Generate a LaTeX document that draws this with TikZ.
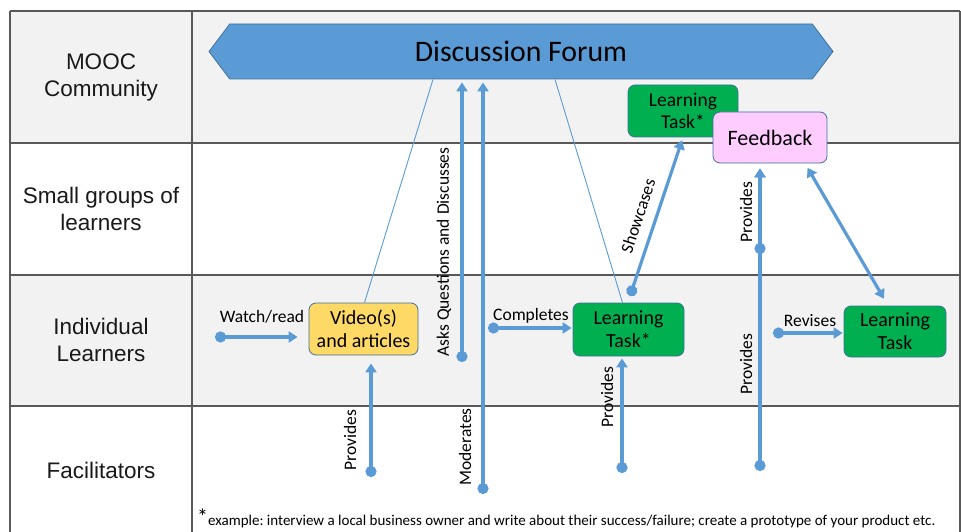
\documentclass[tikz,border=0pt]{standalone}
\usepackage{fontspec}
\setmainfont{Carlito}
\newfontfamily\lanefont{Liberation Sans}
\usetikzlibrary{arrows.meta,shapes.symbols}
\definecolor{rowgray}{HTML}{F2F2F2}
\definecolor{gridline}{HTML}{595959}
\definecolor{flowblue}{HTML}{5B9BD5}
\definecolor{boxedge}{HTML}{41719C}
\definecolor{taskgreen}{HTML}{00B050}
\definecolor{videoyellow}{HTML}{FFD966}
\definecolor{fbpink}{HTML}{FFCCFF}
\tikzset{
  grid/.style = {gridline, line width=1.2pt},
  lane/.style = {align=center, text=black!90, font=\lanefont\fontsize{22.5}{27}\selectfont},
  forum/.style = {signal, signal to=west and east, signal pointer angle=106, draw=boxedge, fill=flowblue,
    line width=0.8pt, minimum width=624pt, minimum height=55pt, inner sep=0pt, font=\fontsize{29.8}{32}\selectfont},
  taskbox/.style = {rectangle, rounded corners=7pt, draw=boxedge, line width=0.8pt, align=center, inner sep=0pt,
    font=\fontsize{20}{23}\selectfont},
  task/.style = {taskbox, fill=taskgreen},
  video/.style = {taskbox, fill=videoyellow},
  fback/.style = {taskbox, fill=fbpink, font=\fontsize{22}{24}\selectfont},
  flow/.style = {flowblue, line width=3.2pt, {Circle[length=11pt]}-{Triangle[length=9pt,width=11pt]}},
  twoway/.style = {flowblue, line width=3.2pt, {Triangle[length=9pt,width=11pt]}-{Triangle[length=9pt,width=11pt]}},
  link/.style = {flowblue, line width=0.9pt},
  flabel/.style = {inner sep=1pt, font=\fontsize{17.5}{20}\selectfont},
}
\begin{document}
\begin{tikzpicture}[x=1pt,y=-1pt]
\useasboundingbox (0,0) rectangle (961,532);
\fill[white] (0,0) rectangle (961,532);
\fill[rowgray] (10,11) rectangle (960,143);
\fill[rowgray] (10,275) rectangle (960,406);
\foreach \y in {11,143,275,406}
  \draw[grid] (10,\y) -- (960,\y);
\foreach \x in {10,192,960}
  \draw[grid] (\x,11) -- (\x,532);

\node[lane] (mooc) at (101,77) {MOOC\\Community};
\node[lane] (groups) at (101,209) {Small groups of\\learners};
\node[lane] (indiv) at (101,340) {Individual\\Learners};
\node[lane] (facil) at (101,470) {Facilitators};

\node[forum] (forum) at (521,51.5) {Discussion Forum};
\node[video, minimum width=109pt, minimum height=52pt] (vid) at (363.5,329) {Video(s)\\and articles};
\node[task, minimum width=111pt, minimum height=53pt] (task) at (628.5,329.5) {Learning\\Task*};
\node[task, minimum width=110pt, minimum height=52pt, font=\fontsize{19.5}{22}\selectfont] (tasktop) at (683,111) {Learning\\Task*};
\node[fback, minimum width=114pt, minimum height=51pt] (fb) at (770,137.5) {Feedback};
\node[task, minimum width=102pt, minimum height=51pt] (taskrev) at (895,331.5) {Learning\\Task};

\coordinate (wdot) at (215,337);
\coordinate (pvdot) at (371,477);
\coordinate (askdot) at (462,362);
\coordinate (moddot) at (483,494);
\coordinate (cdot) at (488,328);
\coordinate (pldot) at (622,473);
\coordinate (sdot) at (630,296);
\coordinate (pfdot) at (760,471);
\coordinate (pgdot) at (760,254);
\coordinate (rdot) at (773,333);

\draw[link] ([xshift=-88pt]forum.south) -- ([xshift=1pt]vid.north);
\draw[link] ([xshift=34pt]forum.south) -- ([xshift=-6pt]task.north);

\draw[flow, shorten >=11pt] (wdot) -- (wdot -| vid.west);
\draw[flow, shorten >=8pt] (pvdot) -- (pvdot |- vid.south);
\draw[flow, shorten >=3pt] (askdot) -- (askdot |- forum.south);
\draw[flow, shorten >=3pt] (moddot) -- (moddot |- forum.south);
\draw[flow, shorten >=1pt] (cdot) -- (cdot -| task.west);
\draw[flow, shorten >=2pt] (pldot) -- (pldot |- task.south);
\draw[flow, shorten >=3pt] (sdot) -- (tasktop.south);
\draw[flow, shorten >=5pt] (pfdot) -- (pfdot |- fb.south);
\draw[flow, shorten >=5pt] (pgdot) -- (pgdot |- fb.south);
\draw[twoway, shorten <=5pt, shorten >=8pt] ([xshift=35pt]fb.south) -- ([xshift=-7pt]taskrev.north);
\draw[flow, shorten >=1pt] (rdot) -- (rdot -| taskrev.west);

\node[flabel] (watch) at (262,317) {Watch/read};
\node[flabel] (compl) at (531,316) {Completes};
\node[flabel] (revis) at (810,321) {Revises};
\node[flabel, rotate=90] (provv) at (350,440) {Provides};
\node[flabel, rotate=90] (provt) at (607,397) {Provides};
\node[flabel, rotate=90] (provg) at (746,212) {Provides};
\node[flabel, rotate=90] (provf) at (746,364) {Provides};
\node[flabel, rotate=90] (asks) at (444,252) {Asks Questions and Discusses};
\node[flabel, rotate=90] (moder) at (465,447) {Moderates};
\node[flabel, rotate=71.6] (showc) at (638,216) {Showcases};

\node[anchor=west, inner sep=0pt, font=\fontsize{15}{17}\selectfont] (note) at (197,518)
  {\frenchspacing\raisebox{1pt}{\fontsize{22}{22}\selectfont *}example: interview a local business owner and write about their success/failure; create a prototype of your product etc.};
\end{tikzpicture}
\end{document}
